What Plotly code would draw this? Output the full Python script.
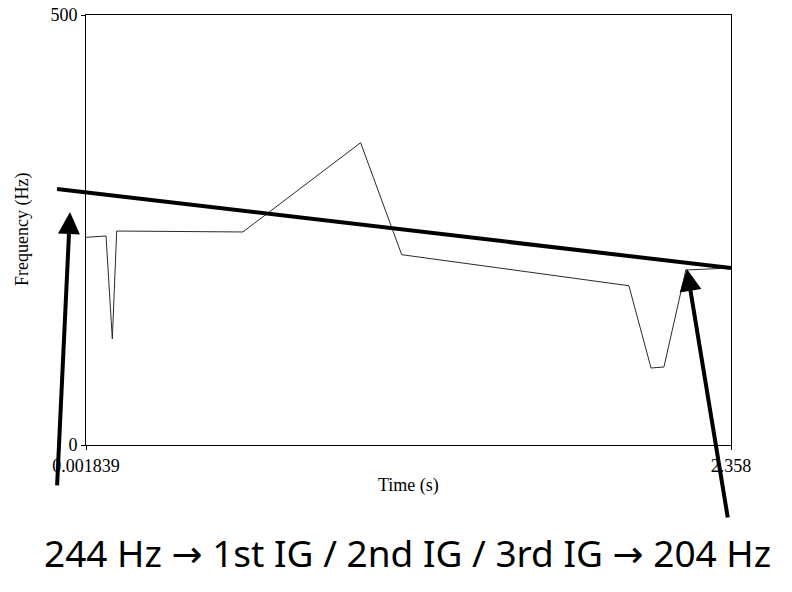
import plotly.graph_objects as go

# ---- data ----
time_s = [0.0018, 0.075, 0.098, 0.114, 0.575, 1.005, 1.155, 1.985, 2.066, 2.113, 2.193, 2.292, 2.358]
freq_hz = [241.5, 243.0, 123.3, 248.8, 247.7, 351.5, 221.3, 185.2, 89.5, 90.7, 203.5, 205.0, 205.8]

x_range = [0.001839, 2.358]
y_range = [0, 500]
x_tick_vals = [0.001839, 2.358]
x_tick_text = ["0.001839", "2.358"]
y_tick_vals = [0, 500]
y_tick_text = ["0", "500"]

# overlaid annotation strokes (time, Hz), extending beyond the axes
trend_time = [-0.104, 2.358]
trend_hz = [297.7, 205.8]
arrow1_tail = (-0.104, -48.8)
arrow1_head = (-0.0566, 270.9)
arrow2_tail = (2.347, -86.0)
arrow2_head = (2.197, 204.7)

arrow_span = '<span style="font-family:DejaVu Sans">\u2192</span>'
caption = "244 Hz " + arrow_span + " 1st IG / 2nd IG / 3rd IG " + arrow_span + " 204 Hz"

# ---- layout geometry ----
W, H = 792, 592
L, R, T, B = 86, 61, 15, 147
PW, PH = W - L - R, H - T - B


def px(t):
    return (t - x_range[0]) / (x_range[1] - x_range[0])


def py(f):
    return (f - y_range[0]) / (y_range[1] - y_range[0])


fig = go.Figure()
fig.add_trace(go.Scatter(x=time_s, y=freq_hz, mode="lines",
                         line=dict(color="#2a2a2a", width=1), showlegend=False))

serif = "Liberation Serif, Times New Roman, serif"
fs = 18

fig.update_layout(
    width=W, height=H,
    margin=dict(l=L, r=R, t=T, b=B),
    paper_bgcolor="white", plot_bgcolor="white",
    font=dict(family=serif, size=fs, color="black"),
    xaxis=dict(range=x_range, tickvals=x_tick_vals, ticktext=x_tick_text,
               showgrid=False, zeroline=False, showline=True, mirror=True,
               linecolor="black", linewidth=1, ticks="outside", ticklen=4,
               tickcolor="black", tickfont=dict(family=serif, size=fs),
               automargin=False, ticklabeloverflow="allow"),
    yaxis=dict(range=y_range, tickvals=y_tick_vals, ticktext=y_tick_text,
               showgrid=False, zeroline=False, showline=True, mirror=True,
               linecolor="black", linewidth=1, ticks="outside", ticklen=4,
               tickcolor="black", tickfont=dict(family=serif, size=fs),
               automargin=False, ticklabeloverflow="allow"),
)

# axis titles
fig.add_annotation(x=0.5, y=(-40) / PH, xref="paper", yref="paper",
                   text="Time (s)", showarrow=False,
                   font=dict(family=serif, size=fs), xanchor="center", yanchor="middle")
fig.add_annotation(x=(22 - 86) / PW, y=0.5, xref="paper", yref="paper",
                   text="Frequency (Hz)", showarrow=False, textangle=-90,
                   font=dict(family=serif, size=fs), xanchor="center", yanchor="middle")

# thick trend line
fig.add_shape(type="line", xref="paper", yref="paper",
              x0=px(trend_time[0]), y0=py(trend_hz[0]),
              x1=px(trend_time[1]), y1=py(trend_hz[1]),
              line=dict(color="black", width=4), layer="above")

# arrows
for tail, head in [(arrow1_tail, arrow1_head), (arrow2_tail, arrow2_head)]:
    hx, hy = px(head[0]), py(head[1])
    tx, ty = px(tail[0]), py(tail[1])
    fig.add_annotation(x=hx, y=hy, xref="paper", yref="paper",
                       ax=(tx - hx) * PW, ay=-(ty - hy) * PH,
                       axref="pixel", ayref="pixel", text="",
                       showarrow=True, arrowhead=2, arrowsize=1.1,
                       arrowwidth=4, arrowcolor="black", standoff=0)

# caption
fig.add_annotation(x=(407.5 - 86) / PW, y=(445 - 552) / PH, xref="paper", yref="paper",
                   text=caption, showarrow=False,
                   font=dict(family="Noto Sans, sans-serif", size=37, color="black"),
                   xanchor="center", yanchor="middle")

fig.write_html("out.html",
               config={"displayModeBar": False},
               post_script="document.body.style.margin='0';document.body.style.overflow='hidden';")
